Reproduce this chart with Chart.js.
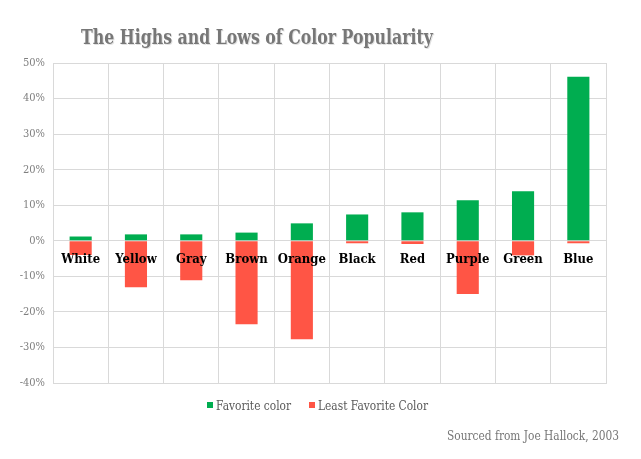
<!DOCTYPE html>
<html>
<head>
<meta charset="utf-8">
<script src="https://cdn.jsdelivr.net/npm/chart.js@4"></script>
<style>
html,body{margin:0;padding:0;background:#fff;}
#wrap{position:relative;width:641px;height:459px;}
</style>
</head>
<body>
<div id="wrap"><canvas id="c" width="641" height="459"></canvas></div>
<script>
const categories = ['White','Yellow','Gray','Brown','Orange','Black','Red','Purple','Green','Blue'];
const favorite = [1.2, 1.8, 1.8, 2.3, 4.9, 7.4, 8.0, 11.4, 13.9, 46.1];
const leastFavorite = [-4.0, -13.1, -11.1, -23.5, -27.7, -0.7, -0.9, -15.0, -4.1, -0.7];
const seriesNames = ['Favorite color', 'Least Favorite Color'];
const yMin = -40, yMax = 50, yStep = 10;
const titleText = 'The Highs and Lows of Color Popularity';
const sourceText = 'Sourced from Joe Hallock, 2003';

const GREEN = '#00ad50';
const RED = '#ff5545';
const SLAB = '"DejaVu Serif", serif';

// draws text at a given font size, squeezed horizontally so that refText spans refW pixels
function drawScaled(ctx, text, x, y, size, weight, refText, refW, align) {
  ctx.font = weight + ' ' + size + 'px ' + SLAB;
  const sx = refW / ctx.measureText(refText).width;
  ctx.save();
  ctx.translate(x, y);
  ctx.scale(sx, 1);
  ctx.textAlign = align;
  ctx.textBaseline = 'alphabetic';
  ctx.fillText(text, 0, 0);
  ctx.restore();
}

const overlay = {
  id: 'overlay',
  afterDatasetsDraw(chart) {
    const ctx = chart.ctx;
    const x = chart.scales.x, y = chart.scales.y;
    const y0 = y.getPixelForValue(0);
    ctx.save();
    ctx.fillStyle = '#000';
    categories.forEach((c, i) => {
      drawScaled(ctx, c, x.getPixelForValue(i), y0 + 22.5, 13.5, '600', 'Orange', 48, 'center');
    });
    ctx.restore();
  },
  afterDraw(chart) {
    const ctx = chart.ctx;
    ctx.save();
    ctx.fillStyle = 'rgba(0,0,0,0.12)';
    drawScaled(ctx, titleText, 258, 44.5, 21, 'bold', titleText, 352, 'center');
    ctx.fillStyle = '#777777';
    drawScaled(ctx, titleText, 257, 44, 21, 'bold', titleText, 352, 'center');
    // legend
    ctx.fillStyle = GREEN;
    ctx.fillRect(207, 402, 6, 6);
    ctx.fillStyle = RED;
    ctx.fillRect(309, 402, 6, 6);
    ctx.fillStyle = '#595959';
    drawScaled(ctx, seriesNames[0], 216, 410, 12, 'normal', seriesNames[1], 110, 'left');
    drawScaled(ctx, seriesNames[1], 318, 410, 12, 'normal', seriesNames[1], 110, 'left');
    // source
    ctx.fillStyle = '#767676';
    drawScaled(ctx, sourceText, 447, 440, 12, 'normal', sourceText, 172, 'left');
    ctx.restore();
  }
};

new Chart(document.getElementById('c'), {
  type: 'bar',
  data: {
    labels: categories,
    datasets: [
      { label: seriesNames[0], data: favorite, backgroundColor: GREEN, borderWidth: 0 },
      { label: seriesNames[1], data: leastFavorite, backgroundColor: RED, borderWidth: 0 }
    ]
  },
  options: {
    responsive: false,
    animation: false,
    devicePixelRatio: 1,
    layout: { padding: { left: 0, right: 35, top: 63, bottom: 76 } },
    plugins: { legend: { display: false }, title: { display: false }, tooltip: { enabled: false } },
    datasets: { bar: { categoryPercentage: 0.8, barPercentage: 0.5 } },
    scales: {
      x: {
        stacked: true,
        ticks: { display: false },
        grid: { color: '#d9d9d9', lineWidth: 1, drawTicks: false, offset: true },
        border: { color: '#d9d9d9' }
      },
      y: {
        stacked: true,
        min: yMin, max: yMax,
        afterFit(scale) { scale.width = 53; },
        ticks: {
          stepSize: yStep,
          padding: 8,
          color: '#7f7f7f',
          font: { family: '"DejaVu Serif Condensed", "DejaVu Serif", serif', size: 11 },
          callback: v => v + '%'
        },
        grid: { color: '#d9d9d9', lineWidth: 1, drawTicks: false },
        border: { color: '#d9d9d9' }
      }
    }
  },
  plugins: [overlay]
});
</script>
</body>
</html>
